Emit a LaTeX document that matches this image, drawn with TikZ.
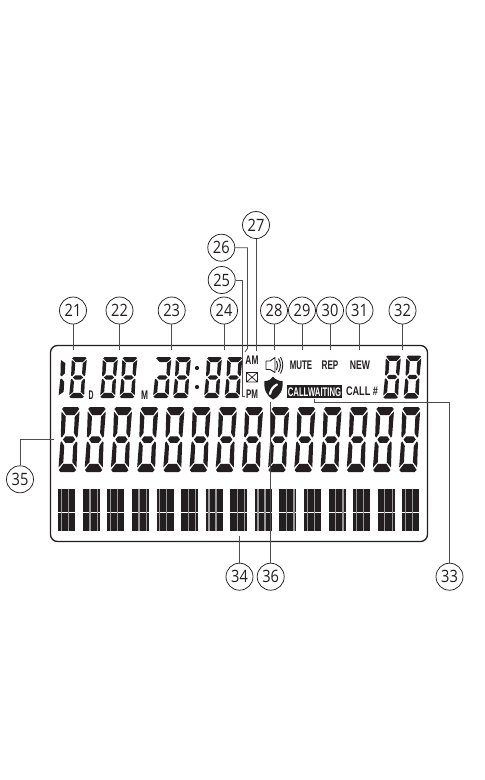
\documentclass[tikz,border=0pt]{standalone}
\usepackage{fontspec}
\usepackage{graphicx}
\setmainfont{Open Sans}
\newfontfamily\lcdfont{Liberation Sans}[BoldFont={Liberation Sans Bold}]
\definecolor{ink}{HTML}{231F20}
\definecolor{stripe}{HTML}{9A9A9A}
\newcommand{\narrowtxt}[2]{\scalebox{#1}[1]{#2}}
% seven-segment pieces, in unit coordinates of one digit
\def\sgA{(.12,0)--(.88,0)--(.98,.03)--(.74,.125)--(.26,.125)--(.02,.03)--cycle}
\def\sgB{(1,.07)--(.75,.15)--(.75,.40)--(.9,.47)--(.97,.45)--cycle}
\def\sgC{(.97,.55)--(.9,.53)--(.75,.60)--(.75,.85)--(1,.93)--cycle}
\def\sgD{(.02,.97)--(.26,.875)--(.74,.875)--(.98,.97)--(.88,1)--(.12,1)--cycle}
\def\sgE{(.03,.55)--(.1,.53)--(.25,.60)--(.25,.85)--(0,.93)--cycle}
\def\sgF{(0,.07)--(.25,.15)--(.25,.40)--(.1,.47)--(.03,.45)--cycle}
\def\sgG{(.16,.5)--(.3,.45)--(.7,.45)--(.84,.5)--(.7,.55)--(.3,.55)--cycle}
\newcommand{\lcddigit}[6]{%
  \begin{scope}[shift={(#1+#5,#2)}]
    \begin{scope}[x={(#3pt,0pt)},y={(-#5pt,-#4pt)}]
      \foreach \sg in {#6} \fill[ink] \sg;
    \end{scope}
  \end{scope}}
\newcommand{\fulldigit}[5]{\lcddigit{#1}{#2}{#3}{#4}{#5}{\sgA,\sgB,\sgC,\sgD,\sgE,\sgF,\sgG}}
\tikzset{
  lab/.style={circle,draw=ink,line width=.75pt,minimum size=27pt,inner sep=0pt,text=ink,font=\fontsize{17}{18}\selectfont},
  lead/.style={draw=ink!80,line width=.8pt},
  lcdtxt/.style={inner sep=0pt,text=ink,font=\lcdfont\bfseries\fontsize{12.5}{13}\selectfont},
}
\newcommand{\lbl}[3]{\node[lab] (n#1) at (#2,#3) {\narrowtxt{.86}{#1}};}
\begin{document}
\begin{tikzpicture}[x=1pt,y=-1pt]
\useasboundingbox (0,0) rectangle (485,780);
\fill[white] (0,0) rectangle (485,780);

% frame
\draw[ink,line width=1.3pt,rounded corners=7pt] (50.5,345.5) rectangle (427.5,541.5);

% time row digits
\lcddigit{58.5}{357}{19}{41}{2.5}{\sgE,\sgF}
\foreach \x in {69,100,119.5,173,204,224.5}{\fulldigit{\x}{357}{15}{41}{3}}
\lcddigit{153}{357}{15.5}{41}{3}{\sgA,\sgB,\sgC,\sgD,\sgE,\sgG}
\fill[ink] (197,368) circle (2.1) (197,387) circle (2.1);
\foreach \x in {383,403.5}{\fulldigit{\x}{355.5}{15}{43}{3}}

% large digits
\foreach \k in {0,...,13}{\fulldigit{58.3+26.2*\k}{407}{18}{65}{3.5}}

% bar groups
\foreach \k in {0,...,14}{
  \pgfmathsetmacro{\gx}{58.3+24.57*\k}
  \pgfmathsetmacro{\sa}{mod(\k,2)==0 ? 2.6 : 6.4}
  \pgfmathsetmacro{\sb}{mod(\k,2)==0 ? 9.6 : 13.8}
  \fill[ink] (\gx,488.5) rectangle ++(17,23);
  \fill[ink] (\gx,512.7) rectangle ++(17,18);
  \fill[stripe] (\gx+\sa,488.5) rectangle ++(1.3,42.2);
  \fill[stripe] (\gx+\sb,488.5) rectangle ++(1.3,42.2);
}
% text in the display
\node[lcdtxt] (dd) at (91,395.5) {\narrowtxt{.55}{D}};
\node[lcdtxt] (mm) at (144.5,395.5) {\narrowtxt{.67}{M}};
\node[lcdtxt] (am) at (252,360.5) {\narrowtxt{.67}{AM}};
\node[lcdtxt] (pm) at (252,394.5) {\narrowtxt{.64}{PM}};
\node[lcdtxt] (mute) at (301,365) {\narrowtxt{.63}{MUTE}};
\node[lcdtxt] (rep) at (330,365) {\narrowtxt{.65}{REP}};
\node[lcdtxt] (new) at (360,365) {\narrowtxt{.69}{NEW}};
\node[lcdtxt,fill=ink,text=white,minimum width=55.5pt,minimum height=13pt] (cw) at (314.5,391.7) {\narrowtxt{.62}{CALLWAITING}};
\node[lcdtxt] (cn) at (362,391.5) {\narrowtxt{.73}{CALL \#}};

% envelope
\draw[ink,line width=.7pt] (246.5,372.5) rectangle (257.5,382) (246.5,372.5) -- (257.5,382) (246.5,382) -- (257.5,372.5);
% speaker
\draw[ink,line width=.9pt,line join=round] (266,361) -- (270,361) -- (275,357.5) -- (275,372.5) -- (270,369.5) -- (266,369.5) -- cycle;
\draw[ink,line width=1pt] (276.5,361) .. controls (278,364) and (278,367) .. (276.5,370);
\draw[ink,line width=1pt] (278.5,358.5) .. controls (281,363) and (281,367) .. (278.5,372);
\draw[ink,line width=.9pt] (280.5,357) .. controls (283.5,362) and (283.5,368) .. (280.5,373.5);
% handset shield
\fill[ink] (264.5,381) .. controls (269,381) and (271,379.5) .. (273,376.5) .. controls (275.5,379.5) and (278,381) .. (282.5,381) .. controls (283.5,390) and (280,396) .. (273,399.5) .. controls (267,396) and (263.5,390) .. (264.5,381) -- cycle;
\draw[white,line width=2.2pt,line cap=round] (270,394) .. controls (271,389) and (273.5,386.5) .. (277,384.5);

% labels
\lbl{21}{73}{310.5}
\lbl{22}{119.5}{310.5}
\lbl{23}{171.7}{310.5}
\lbl{24}{224}{310.5}
\lbl{25}{221.7}{280}
\lbl{26}{221.3}{247.7}
\lbl{27}{256}{225}
\lbl{28}{274}{310.5}
\lbl{29}{302}{310.5}
\lbl{30}{330}{310.5}
\lbl{31}{359.5}{310.5}
\lbl{32}{402.5}{310.5}
\lbl{33}{449.5}{576.7}
\lbl{34}{239.5}{576.7}
\lbl{35}{20}{479.3}
\lbl{36}{270.7}{576.7}

% leader ends
\foreach \n/\x in {21/73,22/119.5,23/171.7,24/224,28/274,29/302,30/330,31/359.5,32/402.5}{
  \coordinate (e\n) at (\x,350);
  \draw[lead] (n\n) -- (e\n);
}
\coordinate (e25a) at (242.7,280);
\coordinate (e25b) at (242.7,396.5);
\coordinate (e25c) at (245,396.5);
\draw[lead] (n25) -- (e25a) -- (e25b) -- (e25c);
\coordinate (e26a) at (247.5,247.7);
\coordinate (e26b) at (247.5,348.5);
\coordinate (e26c) at (245,352);
\draw[lead] (n26) -- (e26a) -- (e26b) -- (e26c);
\coordinate (e27) at (256,351);
\draw[lead] (n27) -- (e27);
\coordinate (e33a) at (449.5,402.7);
\coordinate (e33b) at (314,402.7);
\coordinate (e33c) at (314,399);
\draw[lead] (n33) -- (e33a) -- (e33b) -- (e33c);
\coordinate (e34) at (239.5,536);
\draw[lead] (n34) -- (e34);
\coordinate (e35a) at (20,439);
\coordinate (e35b) at (54,439);
\draw[lead] (n35) -- (e35a) -- (e35b);
\coordinate (e36) at (270.7,401.5);
\draw[lead] (n36) -- (e36);
\end{tikzpicture}
\end{document}
